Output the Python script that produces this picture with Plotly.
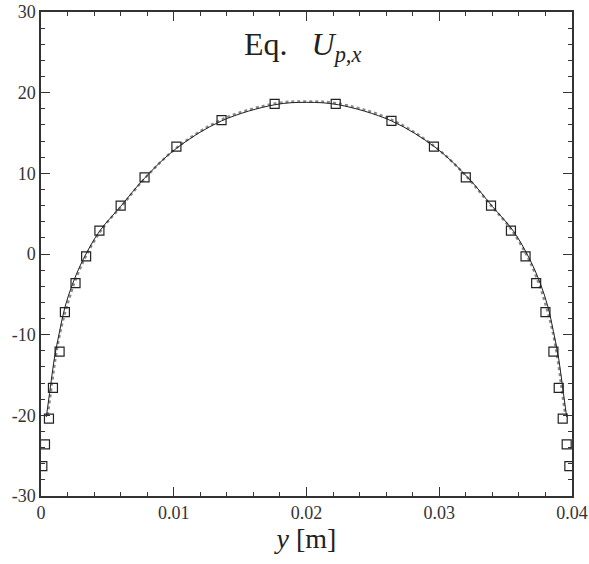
import plotly.graph_objects as go

# marker data (y [m], U_p,x)
marker_y = [0.0001, 0.0003, 0.0006, 0.0009, 0.0014, 0.0018, 0.0026, 0.0034, 0.0044,
            0.0060, 0.0078, 0.0102, 0.0136, 0.0176, 0.0222, 0.0264, 0.0296, 0.0320,
            0.0339, 0.0354, 0.0365, 0.0373, 0.0380, 0.0386, 0.0390, 0.0393, 0.0396, 0.0398]
marker_u = [-26.3, -23.6, -20.4, -16.6, -12.1, -7.2, -3.6, -0.3, 2.9,
            6.0, 9.5, 13.3, 16.6, 18.6, 18.6, 16.5, 13.3, 9.5,
            6.0, 2.9, -0.3, -3.6, -7.2, -12.1, -16.6, -20.4, -23.6, -26.3]

# solid line (simulation)
line_y = [0.0004, 0.0007, 0.0010, 0.0014, 0.0018, 0.0024, 0.0032, 0.0044, 0.0060,
          0.0078, 0.0102, 0.0136, 0.0176, 0.0200, 0.0224, 0.0264, 0.0298, 0.0322,
          0.0340, 0.0356, 0.0368, 0.0376, 0.0382, 0.0386, 0.0390, 0.0393, 0.0396]
line_u = [-20.2, -16.6, -13.0, -9.6, -6.6, -3.6, -0.6, 2.8, 5.9,
          9.4, 13.1, 16.5, 18.5, 18.8, 18.5, 16.5, 13.1, 9.4,
          5.9, 2.8, -0.6, -3.6, -6.6, -9.6, -13.0, -16.6, -20.2]

# dotted line (model)
dot_y = [0.0005, 0.0008, 0.0011, 0.0015, 0.0020, 0.0026, 0.0034, 0.0046, 0.0062,
         0.0080, 0.0104, 0.0138, 0.0178, 0.0200, 0.0222, 0.0262, 0.0296, 0.0320,
         0.0338, 0.0354, 0.0366, 0.0374, 0.0380, 0.0385, 0.0389, 0.0392, 0.0395]
dot_u = [-20.0, -16.4, -12.8, -9.3, -6.2, -3.2, -0.2, 3.1, 6.2,
         9.7, 13.4, 16.8, 18.7, 18.9, 18.7, 16.8, 13.4, 9.7,
         6.2, 3.1, -0.2, -3.2, -6.2, -9.3, -12.8, -16.4, -20.0]

x_ticks = [0, 0.01, 0.02, 0.03, 0.04]
x_ticktext = ["0", "0.01", "0.02", "0.03", "0.04"]
y_ticks = [-30, -20, -10, 0, 10, 20, 30]
y_ticktext = ["-30", "-20", "-10", "0", "10", "20", "30"]

SERIF = "Liberation Serif, Times New Roman, serif"

fig = go.Figure()
fig.add_trace(go.Scatter(x=dot_y, y=dot_u, mode="lines", line_shape="spline",
                         line=dict(color="#8a8a8a", width=2.5, dash="dot"), showlegend=False))
fig.add_trace(go.Scatter(x=line_y, y=line_u, mode="lines", line_shape="spline",
                         line=dict(color="#222222", width=1), showlegend=False))
fig.add_trace(go.Scatter(x=marker_y, y=marker_u, mode="markers",
                         marker=dict(symbol="square-open", size=9, color="#222222",
                                     line=dict(width=1.2, color="#222222")),
                         showlegend=False))

axis_common = dict(showgrid=False, zeroline=False, showline=True, linecolor="#333333",
                   linewidth=1.5, ticks="inside", ticklen=9, tickwidth=1.2,
                   tickcolor="#333333", mirror="allticks", automargin=False,
                   ticklabeloverflow="allow")

fig.update_xaxes(range=[0, 0.04], tickmode="array", tickvals=x_ticks, ticktext=x_ticktext,
                 tickfont=dict(family=SERIF, size=18, color="#333333"),
                 minor=dict(dtick=0.002, ticks="inside", ticklen=4, tickcolor="#333333"),
                 title=dict(text="<i>y</i> [m]", font=dict(family=SERIF, size=28, color="#222222"),
                            standoff=0),
                 **axis_common)
fig.update_yaxes(range=[-30, 30], tickmode="array", tickvals=y_ticks, ticktext=y_ticktext,
                 tickfont=dict(family=SERIF, size=18, color="#333333"),
                 minor=dict(dtick=2, ticks="inside", ticklen=4, tickcolor="#333333"),
                 **axis_common)

fig.add_annotation(x=0.493, y=0.975, xref="paper", yref="paper", showarrow=False,
                   text="Eq.&nbsp;&nbsp;&nbsp;<i>U</i><sub><i>p,x</i></sub>",
                   font=dict(family=SERIF, size=32, color="#222222"))

fig.update_layout(width=589, height=564, margin=dict(l=41, r=17, t=12, b=68),
                  font=dict(family=SERIF),
                  plot_bgcolor="white", paper_bgcolor="white")

fig.write_html("out.html", config={"displayModeBar": False},
               post_script="document.body.style.margin='0px';")
